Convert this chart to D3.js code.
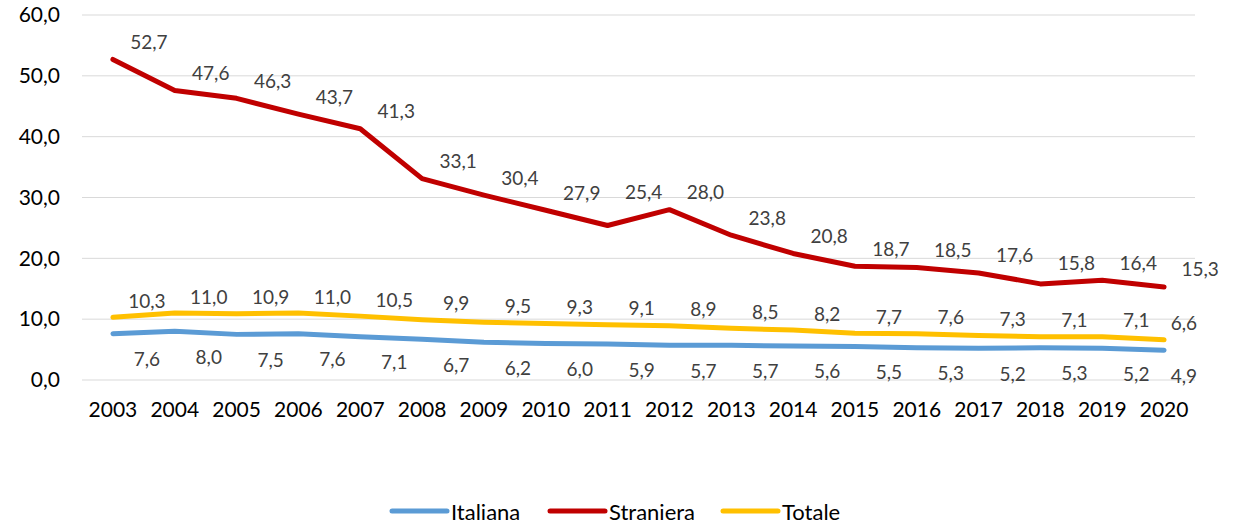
<!DOCTYPE html>
<meta charset="utf-8">
<style>
body { margin: 0; background: #fff; }
text { font-family: Lato, "Open Sans", sans-serif; }
.grid line { stroke: #d9d9d9; stroke-width: 1px; }
.axis text { fill: #000; font-size: 21px; }
.lbl { fill: #404040; font-size: 19px; }
.line { fill: none; stroke-width: 5px; stroke-linejoin: round; stroke-linecap: round; }
</style>
<body>
<script src="https://d3js.org/d3.v7.min.js"></script>
<script>

// data
var years = ["2003","2004","2005","2006","2007","2008","2009","2010","2011","2012","2013","2014","2015","2016","2017","2018","2019","2020"];
var italiana  = [7.6, 8.0, 7.5, 7.6, 7.1, 6.7, 6.2, 6.0, 5.9, 5.7, 5.7, 5.6, 5.5, 5.3, 5.2, 5.3, 5.2, 4.9];
var straniera = [52.7, 47.6, 46.3, 43.7, 41.3, 33.1, 30.4, 27.9, 25.4, 28.0, 23.8, 20.8, 18.7, 18.5, 17.6, 15.8, 16.4, 15.3];
var totale    = [10.3, 11.0, 10.9, 11.0, 10.5, 9.9, 9.5, 9.3, 9.1, 8.9, 8.5, 8.2, 7.7, 7.6, 7.3, 7.1, 7.1, 6.6];
var yTicks = [0, 10, 20, 30, 40, 50, 60];

var series = [
  {name: "Italiana",  values: italiana,  color: "#5b9bd5", dx: 34, dy: 25},
  {name: "Straniera", values: straniera, color: "#c00000", dx: 36, dy: -18},
  {name: "Totale",    values: totale,    color: "#ffc000", dx: 34, dy: -17}
];

var W = 1244, H = 524;
var margin = {top: 15, right: 49, bottom: 144, left: 82},
    width = W - margin.left - margin.right,
    height = H - margin.top - margin.bottom;

var fmt = d3.formatLocale({decimal: ",", thousands: ".", grouping: [3], currency: ["", "€"]}).format(".1f");

var x = d3.scaleBand().domain(years).range([0, width]);
var y = d3.scaleLinear().domain([0, 60]).range([height, 0]);
var px = function(i) { return x(years[i]) + x.bandwidth() / 2; };

var svg = d3.select("body").append("svg")
    .attr("width", W)
    .attr("height", H)
  .append("g")
    .attr("transform", "translate(" + margin.left + "," + margin.top + ")");

// gridlines
svg.append("g").attr("class", "grid")
  .selectAll("line").data(yTicks).enter().append("line")
    .attr("x1", 0).attr("x2", width)
    .attr("y1", function(d) { return y(d); })
    .attr("y2", function(d) { return y(d); });

// y axis
var ya = svg.append("g").attr("class", "axis")
    .call(d3.axisLeft(y).tickValues(yTicks).tickFormat(fmt).tickSize(0).tickPadding(22));
ya.select(".domain").remove();

// x axis
var xa = svg.append("g").attr("class", "axis")
    .attr("transform", "translate(0," + height + ")")
    .call(d3.axisBottom(x).tickSize(0).tickPadding(22));
xa.select(".domain").remove();

var line = d3.line()
    .x(function(d, i) { return px(i); })
    .y(function(d) { return y(d); });

series.forEach(function(s) {
  svg.append("path")
      .datum(s.values)
      .attr("class", "line")
      .attr("stroke", s.color)
      .attr("d", line);
});

// data labels
series.forEach(function(s) {
  svg.append("g").selectAll("text").data(s.values).enter().append("text")
      .attr("class", "lbl")
      .attr("text-anchor", "middle")
      .attr("dominant-baseline", "central")
      .attr("x", function(d, i) { return px(i) + s.dx; })
      .attr("y", function(d, i) {
        // red labels sit right of the point, so keep them above the next segment too
        if (s.name == "Straniera") {
          var nxt = i < s.values.length - 1 ? s.values[i + 1] : d;
          return Math.min(y(d), y(nxt)) + s.dy;
        }
        return y(d) + s.dy;
      })
      .text(fmt)
      .each(function() {
        // keep label inside plot area on the right (like excel does)
        var b = this.getBBox();
        if (s.name != "Straniera" && b.x + b.width > width + 2) {
          d3.select(this).attr("x", width + 2 - b.width / 2);
        }
      });
});

// legend
var legend = svg.append("g").attr("transform", "translate(0," + (height + 131) + ")");
var lx = [310, 468, 641];
series.forEach(function(s, i) {
  var g = legend.append("g").attr("transform", "translate(" + lx[i] + ",0)");
  g.append("line").attr("x1", 0).attr("x2", 55).attr("y1", 0).attr("y2", 0)
      .attr("stroke", s.color).attr("stroke-width", 5).attr("stroke-linecap", "round");
  g.append("text").attr("x", 59).attr("y", 0).attr("dominant-baseline", "central")
      .style("font-size", "22px").attr("fill", "#000").text(s.name);
});

</script>
</body>
